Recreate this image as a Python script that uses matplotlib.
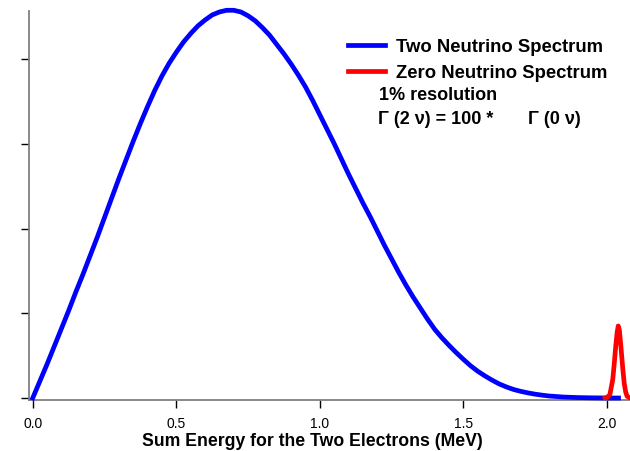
import matplotlib
matplotlib.use("Agg")
import matplotlib.pyplot as plt

# Two-neutrino sum-energy spectrum (arbitrary units)
two_nu_x = [0.0, 0.025, 0.05, 0.075, 0.1, 0.125, 0.15, 0.175, 0.2, 0.225, 0.25,
            0.275, 0.3, 0.325, 0.35, 0.375, 0.4, 0.425, 0.45, 0.475, 0.5, 0.525,
            0.55, 0.575, 0.6, 0.625, 0.65, 0.675, 0.7, 0.725, 0.75, 0.775, 0.8,
            0.825, 0.85, 0.875, 0.9, 0.925, 0.95, 0.975, 1.0, 1.025, 1.05, 1.075,
            1.1, 1.125, 1.15, 1.175, 1.2, 1.225, 1.25, 1.275, 1.3, 1.325, 1.35,
            1.375, 1.4, 1.425, 1.45, 1.475, 1.5, 1.525, 1.55, 1.575, 1.6, 1.625,
            1.65, 1.675, 1.7, 1.725, 1.75, 1.775, 1.8, 1.85, 1.9, 1.95, 2.0, 2.04]
two_nu_y = [0.0, 0.20, 0.40, 0.61, 0.82, 1.03, 1.25, 1.46, 1.68, 1.90, 2.13,
            2.36, 2.59, 2.81, 3.03, 3.24, 3.44, 3.63, 3.80, 3.95, 4.08, 4.20,
            4.30, 4.39, 4.46, 4.52, 4.555, 4.575, 4.575, 4.555, 4.51, 4.45, 4.37,
            4.28, 4.17, 4.06, 3.94, 3.81, 3.67, 3.51, 3.34, 3.17, 3.00, 2.82,
            2.64, 2.47, 2.30, 2.14, 1.97, 1.80, 1.64, 1.48, 1.33, 1.19, 1.06,
            0.93, 0.81, 0.71, 0.62, 0.535, 0.455, 0.38, 0.315, 0.26, 0.21, 0.165,
            0.13, 0.10, 0.078, 0.06, 0.045, 0.033, 0.023, 0.011, 0.005, 0.002, 0.0, 0.0]

# Zero-neutrino peak (1% resolution)
zero_nu_x = [1.993, 2.00, 2.01, 2.02, 2.025, 2.03, 2.035, 2.039, 2.043, 2.048,
             2.055, 2.06, 2.065, 2.07, 2.08]
zero_nu_y = [0.0, 0.005, 0.04, 0.22, 0.40, 0.60, 0.77, 0.85, 0.80, 0.62,
             0.34, 0.17, 0.07, 0.02, 0.0]

xticks = [0.0, 0.5, 1.0, 1.5, 2.0]
xtick_labels = ["0.0", "0.5", "1.0", "1.5", "2.0"]
yticks = [0, 1, 2, 3, 4]

plt.rcParams['font.family'] = ['Liberation Sans', 'DejaVu Sans']

fig = plt.figure(figsize=(6.30, 4.52), dpi=100)
ax = fig.add_axes([0.0465, 0.1122, 0.9535, 0.8619])

ax.plot(two_nu_x, two_nu_y, color='#0000ff', lw=3.4, solid_joinstyle='round',
        label='Two Neutrino Spectrum', clip_on=False, zorder=3)
ax.plot(zero_nu_x, zero_nu_y, color='#ff0000', lw=3.4, solid_joinstyle='round',
        label='Zero Neutrino Spectrum', zorder=4)

ax.set_xlim(-0.012, 2.08)
ax.set_ylim(-0.027, 4.57)

for s in ['top', 'right']:
    ax.spines[s].set_visible(False)
for s in ['left', 'bottom']:
    ax.spines[s].set_color('#808080')
    ax.spines[s].set_linewidth(1.3)

ax.set_xticks(xticks)
ax.set_xticklabels(xtick_labels)
ax.set_yticks(yticks)
ax.set_yticklabels([])
ax.tick_params(axis='both', direction='out', length=6, width=1.0, color='black',
               labelsize=10, pad=5)

ax.set_xlabel('Sum Energy for the Two Electrons (MeV)', fontsize=12.7,
              fontweight='bold')
ax.xaxis.set_label_coords(0.472, -0.081)

leg = ax.legend(loc='upper left', bbox_to_anchor=(348/630, 1 - 39/452),
                bbox_transform=fig.transFigure, frameon=False,
                prop={'size': 13.3, 'weight': 'bold'}, handlelength=2.0,
                handletextpad=0.6, labelspacing=0.5, borderpad=0,
                borderaxespad=0)
for line in leg.get_lines():
    line.set_linewidth(3.4)

fig.text(379/630, 1 - 96/452, '1% resolution', fontsize=13, fontweight='bold',
         va='center', ha='left')
fig.text(378/630, 1 - 120/452, 'Γ (2 ν) = 100 *', fontsize=13, fontweight='bold',
         va='center', ha='left')
fig.text(528/630, 1 - 120/452, 'Γ (0 ν)', fontsize=13, fontweight='bold',
         va='center', ha='left')

fig.savefig('out.png', dpi=100)
